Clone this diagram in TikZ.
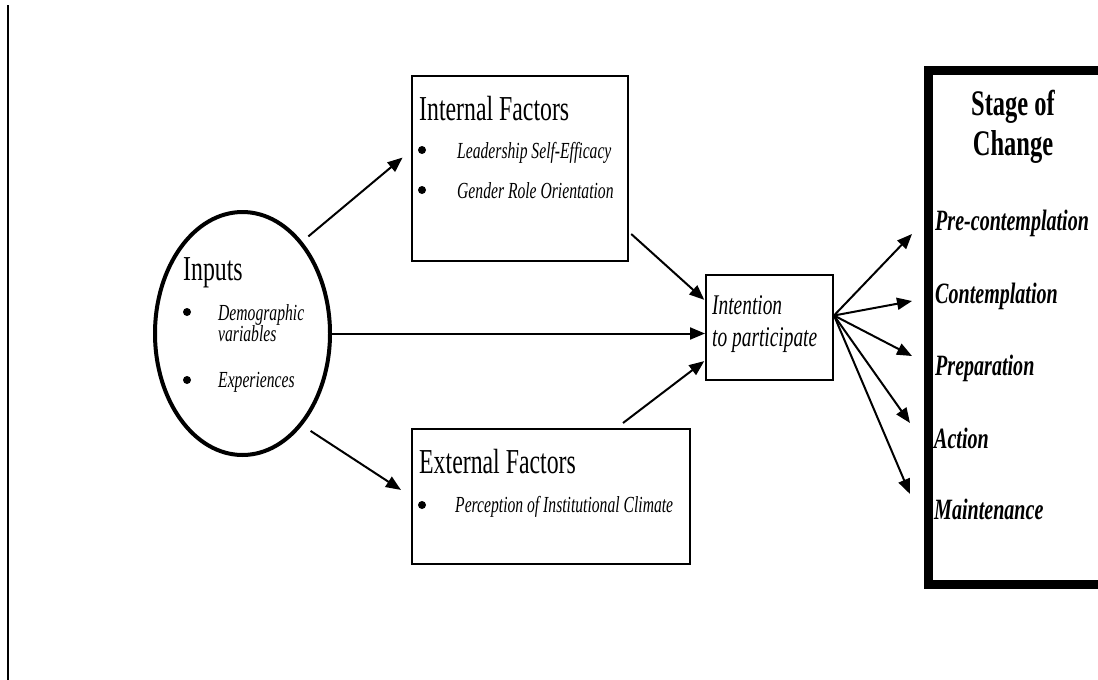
\documentclass[tikz,border=0pt]{standalone}
\usepackage{fontspec}
\setmainfont{Liberation Serif}[FakeStretch=0.68]
\usetikzlibrary{arrows.meta,shapes.geometric}

\begin{document}
\begin{tikzpicture}[
    x=1pt, y=-1pt,
    heading/.style={anchor=base west, inner sep=0pt, font=\fontsize{35}{40}\selectfont},
    item/.style={anchor=base west, inner sep=0pt, font=\itshape\fontsize{23}{26}\selectfont},
    intent/.style={anchor=base west, inner sep=0pt, font=\itshape\fontsize{28.5}{32}\selectfont},
    stagehead/.style={anchor=base, inner sep=0pt, font=\bfseries\fontsize{36}{40}\selectfont},
    stage/.style={anchor=base west, inner sep=0pt, font=\bfseries\itshape\fontsize{29.5}{33}\selectfont},
    dot/.style={circle, fill, inner sep=0pt, minimum size=8pt},
    factor/.style={draw, line width=2pt, anchor=north west, inner sep=0pt},
    arrow/.style={-{Triangle[length=15pt, width=12pt]}, line width=2pt}
  ]
    \clip (0,0) rectangle (1098,680);
    \fill[white] (0,0) rectangle (1098,680);
    \draw[line width=1.5pt] (8,5) -- (8,680);

    % inputs
    \node[ellipse, draw, line width=4pt, minimum width=175pt, minimum height=243pt] (inputs) at (242.5,333.5) {};
    \node[heading] (inputstitle) at (183,280) {Inputs};
    \node[dot] (d1) at (187,312) {};
    \node[item] (demog) at (218,320) {Demographic};
    \node[item] (vars) at (218,341) {variables};
    \node[dot] (d2) at (187,380) {};
    \node[item] (exper) at (218,387) {Experiences};

    % internal and external factors
    \node[factor, minimum width=216pt, minimum height=185pt] (internal) at (411,75) {};
    \node[heading] (internaltitle) at (419,120) {Internal Factors};
    \node[dot] (d3) at (422,150) {};
    \node[item] (lead) at (457,158) {Leadership Self-Efficacy};
    \node[dot] (d4) at (422,190) {};
    \node[item] (gender) at (457,198) {Gender Role Orientation};

    \node[factor, minimum width=278pt, minimum height=135pt] (external) at (411,428) {};
    \node[heading] (externaltitle) at (419,473) {External Factors};
    \node[dot] (d5) at (422,505) {};
    \node[item] (climate) at (455,512) {Perception of Institutional Climate};

    % intention
    \node[factor, minimum width=127pt, minimum height=105pt] (intention) at (705,274) {};
    \node[intent] (intent1) at (712,314) {Intention};
    \node[intent] (intent2) at (712,346) {to participate};

    % stage of change
    \node[draw, line width=9pt, anchor=north west, inner sep=0pt, minimum width=220pt, minimum height=513.5pt] (stagebox) at (923.5,66) {};
    \node[stagehead] (stagetop) at (1013,115) {Stage of};
    \node[stagehead] (stagebottom) at (1013,155) {Change};
    \node[stage] (pre) at (935,230) {Pre-contemplation};
    \node[stage] (contemplation) at (935,303) {Contemplation};
    \node[stage] (preparation) at (935,375) {Preparation};
    \node[stage] (action) at (934,448) {Action};
    \node[stage] (maintenance) at (934,519) {Maintenance};

    \draw[arrow, shorten <=8pt, shorten >=11pt] (inputs.57) -- ([yshift=18pt]internal.west);
    \draw[arrow, shorten <=10pt, shorten >=12pt] (inputs.-57) -- (external.west);
    \draw[arrow] (inputs.east) -- (inputs.east -| intention.west);
    \draw[arrow, shorten <=3pt, shorten >=1pt] ([yshift=30pt]internal.south east) -- ([yshift=27pt]intention.west);
    \draw[arrow, shorten >=1pt] ([xshift=72pt,yshift=5pt]external.north) -- ([yshift=-33pt]intention.west);

    \coordinate (fan) at ([yshift=12pt]intention.east);
    \draw[arrow] (fan) -- ([xshift=-23pt,yshift=-4pt]pre.base west);
    \draw[arrow] (fan) -- ([xshift=-23pt,yshift=2pt]contemplation.base west);
    \draw[arrow] (fan) -- ([xshift=-23pt,yshift=19pt]preparation.base west);
    \draw[arrow] (fan) -- ([xshift=-24pt,yshift=25pt]action.base west);
    \draw[arrow] (fan) -- ([xshift=-24pt,yshift=25pt]maintenance.base west);
  \end{tikzpicture}
\end{document}
